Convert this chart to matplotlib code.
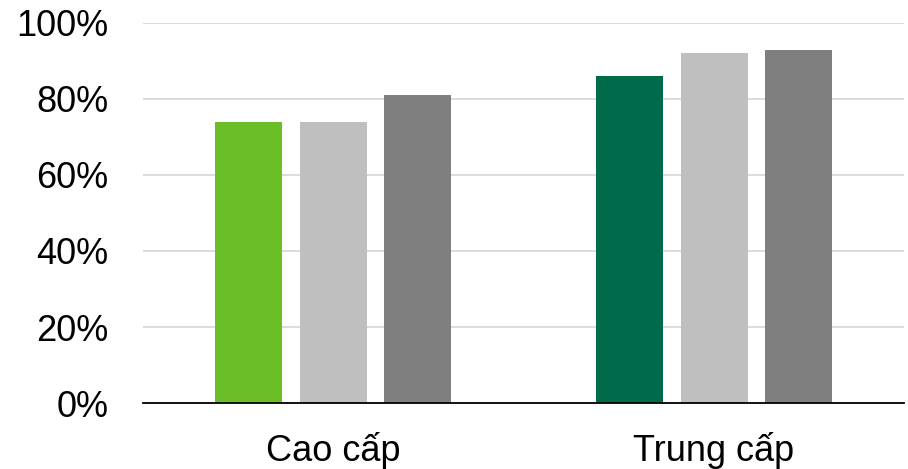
import matplotlib
matplotlib.use("Agg")
import matplotlib.pyplot as plt
import numpy as np

categories = ["Cao cấp", "Trung cấp"]
series1 = [74, 86]
series2 = [74, 92]
series3 = [81, 93]
series1_colors = ["#6BBE28", "#006B4B"]
series2_color = "#BFBFBF"
series3_color = "#7F7F7F"
yticks = [0, 20, 40, 60, 80, 100]
ytick_labels = ["0%", "20%", "40%", "60%", "80%", "100%"]

plt.rcParams['font.family'] = ['Liberation Sans', 'DejaVu Sans']

fig = plt.figure(figsize=(9.08, 4.69), dpi=100)
ax = fig.add_axes([0.1575, 0.1407, 0.8385, 0.8103])

x = np.arange(len(categories))
w = 0.176
off = 0.222
ax.bar(x - off, series1, width=w, color=series1_colors, zorder=3)
ax.bar(x, series2, width=w, color=series2_color, zorder=3)
ax.bar(x + off, series3, width=w, color=series3_color, zorder=3)

ax.set_xlim(-0.5, 1.5)
ax.set_ylim(0, 100)
ax.set_yticks(yticks)
ax.set_yticklabels(ytick_labels)
ax.set_xticks(x)
ax.set_xticklabels(categories)
ax.yaxis.grid(True, color="#D9D9D9", linewidth=1.3, zorder=0)
ax.tick_params(axis='both', length=0, labelsize=26, colors="black")
ax.tick_params(axis='y', pad=25)
ax.tick_params(axis='x', pad=21)
for s in ["top", "right", "left"]:
    ax.spines[s].set_visible(False)
ax.spines["bottom"].set_color("black")
ax.spines["bottom"].set_linewidth(1.3)
ax.spines["bottom"].set_zorder(4)

fig.savefig("out.png", dpi=100)
